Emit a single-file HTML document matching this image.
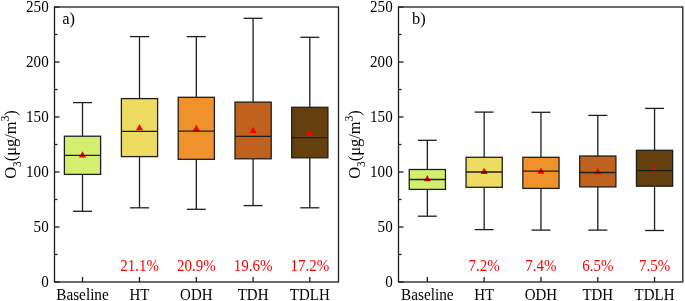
<!DOCTYPE html><html><head><meta charset="utf-8"><style>html,body{margin:0;padding:0;background:#fff;}svg{display:block;} svg{will-change:transform;}text{font-family:"Liberation Serif",serif;}</style></head><body>
<svg width="685" height="301" viewBox="0 0 685 301">
<rect width="685" height="301" fill="#fff"/>
<line x1="82.5" y1="102.6" x2="82.5" y2="136.2" stroke="#1e1e1e" stroke-width="1.3"/>
<line x1="82.5" y1="174.4" x2="82.5" y2="211.3" stroke="#1e1e1e" stroke-width="1.3"/>
<line x1="73.0" y1="102.6" x2="92.0" y2="102.6" stroke="#1e1e1e" stroke-width="1.3"/>
<line x1="73.0" y1="211.3" x2="92.0" y2="211.3" stroke="#1e1e1e" stroke-width="1.3"/>
<rect x="64.4" y="136.2" width="36.2" height="38.20000000000002" fill="#d4ef70" stroke="#1e1e1e" stroke-width="1.3"/>
<polygon points="78.9,157.4 86.1,157.4 82.5,151.20000000000002" fill="#ff0000"/>
<line x1="64.4" y1="155.4" x2="100.6" y2="155.4" stroke="#1e1e1e" stroke-width="1.3"/>
<line x1="82.5" y1="282.0" x2="82.5" y2="277.0" stroke="#1e1e1e" stroke-width="1.3"/>
<text transform="translate(82.5,299.5) scale(0.985,1.05)" font-size="15.5" text-anchor="middle" fill="#000">Baseline</text>
<line x1="139.5" y1="36.6" x2="139.5" y2="98.6" stroke="#1e1e1e" stroke-width="1.3"/>
<line x1="139.5" y1="156.6" x2="139.5" y2="207.8" stroke="#1e1e1e" stroke-width="1.3"/>
<line x1="130.0" y1="36.6" x2="149.0" y2="36.6" stroke="#1e1e1e" stroke-width="1.3"/>
<line x1="130.0" y1="207.8" x2="149.0" y2="207.8" stroke="#1e1e1e" stroke-width="1.3"/>
<rect x="121.4" y="98.6" width="36.2" height="58.0" fill="#eedc62" stroke="#1e1e1e" stroke-width="1.3"/>
<polygon points="135.9,130.3 143.1,130.3 139.5,124.10000000000001" fill="#ff0000"/>
<line x1="121.4" y1="131.3" x2="157.6" y2="131.3" stroke="#1e1e1e" stroke-width="1.3"/>
<line x1="139.5" y1="282.0" x2="139.5" y2="277.0" stroke="#1e1e1e" stroke-width="1.3"/>
<text transform="translate(139.5,299.5) scale(0.965,1.05)" font-size="15.5" text-anchor="middle" fill="#000">HT</text>
<text transform="translate(139.5,270.7) scale(1.0,1.09)" font-size="15" text-anchor="middle" fill="#ff0000">21.1%</text>
<line x1="196.3" y1="36.6" x2="196.3" y2="97.3" stroke="#1e1e1e" stroke-width="1.3"/>
<line x1="196.3" y1="159.3" x2="196.3" y2="209.3" stroke="#1e1e1e" stroke-width="1.3"/>
<line x1="186.8" y1="36.6" x2="205.8" y2="36.6" stroke="#1e1e1e" stroke-width="1.3"/>
<line x1="186.8" y1="209.3" x2="205.8" y2="209.3" stroke="#1e1e1e" stroke-width="1.3"/>
<rect x="178.20000000000002" y="97.3" width="36.2" height="62.000000000000014" fill="#f0922c" stroke="#1e1e1e" stroke-width="1.3"/>
<polygon points="192.70000000000002,130.9 199.9,130.9 196.3,124.7" fill="#ff0000"/>
<line x1="178.20000000000002" y1="131.2" x2="214.4" y2="131.2" stroke="#1e1e1e" stroke-width="1.3"/>
<line x1="196.3" y1="282.0" x2="196.3" y2="277.0" stroke="#1e1e1e" stroke-width="1.3"/>
<text transform="translate(196.3,299.5) scale(0.965,1.05)" font-size="15.5" text-anchor="middle" fill="#000">ODH</text>
<text transform="translate(196.3,270.7) scale(1.0,1.09)" font-size="15" text-anchor="middle" fill="#ff0000">20.9%</text>
<line x1="253.1" y1="18.3" x2="253.1" y2="102.1" stroke="#1e1e1e" stroke-width="1.3"/>
<line x1="253.1" y1="158.8" x2="253.1" y2="205.6" stroke="#1e1e1e" stroke-width="1.3"/>
<line x1="243.6" y1="18.3" x2="262.6" y2="18.3" stroke="#1e1e1e" stroke-width="1.3"/>
<line x1="243.6" y1="205.6" x2="262.6" y2="205.6" stroke="#1e1e1e" stroke-width="1.3"/>
<rect x="235.0" y="102.1" width="36.2" height="56.70000000000002" fill="#c0621e" stroke="#1e1e1e" stroke-width="1.3"/>
<polygon points="249.5,133.0 256.7,133.0 253.1,126.80000000000001" fill="#ff0000"/>
<line x1="235.0" y1="136.4" x2="271.2" y2="136.4" stroke="#1e1e1e" stroke-width="1.3"/>
<line x1="253.1" y1="282.0" x2="253.1" y2="277.0" stroke="#1e1e1e" stroke-width="1.3"/>
<text transform="translate(253.1,299.5) scale(0.965,1.05)" font-size="15.5" text-anchor="middle" fill="#000">TDH</text>
<text transform="translate(253.1,270.7) scale(1.0,1.09)" font-size="15" text-anchor="middle" fill="#ff0000">19.6%</text>
<line x1="309.8" y1="37.3" x2="309.8" y2="107.3" stroke="#1e1e1e" stroke-width="1.3"/>
<line x1="309.8" y1="157.8" x2="309.8" y2="207.8" stroke="#1e1e1e" stroke-width="1.3"/>
<line x1="300.3" y1="37.3" x2="319.3" y2="37.3" stroke="#1e1e1e" stroke-width="1.3"/>
<line x1="300.3" y1="207.8" x2="319.3" y2="207.8" stroke="#1e1e1e" stroke-width="1.3"/>
<rect x="291.7" y="107.3" width="36.2" height="50.500000000000014" fill="#65400f" stroke="#1e1e1e" stroke-width="1.3"/>
<polygon points="306.2,135.75 313.40000000000003,135.75 309.8,129.55" fill="#ff0000"/>
<line x1="291.7" y1="137.6" x2="327.90000000000003" y2="137.6" stroke="#1e1e1e" stroke-width="1.3"/>
<line x1="309.8" y1="282.0" x2="309.8" y2="277.0" stroke="#1e1e1e" stroke-width="1.3"/>
<text transform="translate(309.8,299.5) scale(0.965,1.05)" font-size="15.5" text-anchor="middle" fill="#000">TDLH</text>
<text transform="translate(309.8,270.7) scale(1.0,1.09)" font-size="15" text-anchor="middle" fill="#ff0000">17.2%</text>
<line x1="54.5" y1="282.0" x2="59.5" y2="282.0" stroke="#1e1e1e" stroke-width="1.3"/>
<text transform="translate(48.7,287.3) scale(0.975,1.08)" font-size="15.5" text-anchor="end" fill="#000">0</text>
<line x1="54.5" y1="254.5" x2="57.5" y2="254.5" stroke="#1e1e1e" stroke-width="1.3"/>
<line x1="54.5" y1="227.0" x2="59.5" y2="227.0" stroke="#1e1e1e" stroke-width="1.3"/>
<text transform="translate(48.7,232.3) scale(0.975,1.08)" font-size="15.5" text-anchor="end" fill="#000">50</text>
<line x1="54.5" y1="199.5" x2="57.5" y2="199.5" stroke="#1e1e1e" stroke-width="1.3"/>
<line x1="54.5" y1="172.0" x2="59.5" y2="172.0" stroke="#1e1e1e" stroke-width="1.3"/>
<text transform="translate(48.7,177.3) scale(0.975,1.08)" font-size="15.5" text-anchor="end" fill="#000">100</text>
<line x1="54.5" y1="144.5" x2="57.5" y2="144.5" stroke="#1e1e1e" stroke-width="1.3"/>
<line x1="54.5" y1="117.0" x2="59.5" y2="117.0" stroke="#1e1e1e" stroke-width="1.3"/>
<text transform="translate(48.7,122.3) scale(0.975,1.08)" font-size="15.5" text-anchor="end" fill="#000">150</text>
<line x1="54.5" y1="89.5" x2="57.5" y2="89.5" stroke="#1e1e1e" stroke-width="1.3"/>
<line x1="54.5" y1="62.0" x2="59.5" y2="62.0" stroke="#1e1e1e" stroke-width="1.3"/>
<text transform="translate(48.7,67.3) scale(0.975,1.08)" font-size="15.5" text-anchor="end" fill="#000">200</text>
<line x1="54.5" y1="34.5" x2="57.5" y2="34.5" stroke="#1e1e1e" stroke-width="1.3"/>
<line x1="54.5" y1="7.0" x2="59.5" y2="7.0" stroke="#1e1e1e" stroke-width="1.3"/>
<text transform="translate(48.7,12.3) scale(0.975,1.08)" font-size="15.5" text-anchor="end" fill="#000">250</text>
<rect x="54.5" y="7.0" width="284.0" height="275.0" fill="none" stroke="#1e1e1e" stroke-width="1.3"/>
<text transform="translate(62.2,23.7) scale(0.95,1)" font-size="17.3" fill="#000">a)</text>
<text transform="translate(16.299999999999997,144.5) rotate(-90) scale(1,1.06)" x="0" y="0" font-size="16.5" text-anchor="middle" fill="#000">O<tspan font-size="11.3" dy="4.15">3</tspan><tspan dy="-4.15">(μg/m</tspan><tspan font-size="11.3" dy="-6.6">3</tspan><tspan dy="6.6">)</tspan></text>
<line x1="427.35" y1="140.3" x2="427.35" y2="169.5" stroke="#1e1e1e" stroke-width="1.3"/>
<line x1="427.35" y1="189.4" x2="427.35" y2="216.2" stroke="#1e1e1e" stroke-width="1.3"/>
<line x1="417.85" y1="140.3" x2="436.85" y2="140.3" stroke="#1e1e1e" stroke-width="1.3"/>
<line x1="417.85" y1="216.2" x2="436.85" y2="216.2" stroke="#1e1e1e" stroke-width="1.3"/>
<rect x="409.25" y="169.5" width="36.2" height="19.900000000000006" fill="#d4ef70" stroke="#1e1e1e" stroke-width="1.3"/>
<polygon points="423.75,181.15 430.95000000000005,181.15 427.35,174.95000000000002" fill="#ff0000"/>
<line x1="409.25" y1="179.5" x2="445.45000000000005" y2="179.5" stroke="#1e1e1e" stroke-width="1.3"/>
<line x1="427.35" y1="282.0" x2="427.35" y2="277.0" stroke="#1e1e1e" stroke-width="1.3"/>
<text transform="translate(427.35,299.5) scale(0.985,1.05)" font-size="15.5" text-anchor="middle" fill="#000">Baseline</text>
<line x1="484.15" y1="112.1" x2="484.15" y2="157.3" stroke="#1e1e1e" stroke-width="1.3"/>
<line x1="484.15" y1="187.3" x2="484.15" y2="229.6" stroke="#1e1e1e" stroke-width="1.3"/>
<line x1="474.65" y1="112.1" x2="493.65" y2="112.1" stroke="#1e1e1e" stroke-width="1.3"/>
<line x1="474.65" y1="229.6" x2="493.65" y2="229.6" stroke="#1e1e1e" stroke-width="1.3"/>
<rect x="466.04999999999995" y="157.3" width="36.2" height="30.0" fill="#eedc62" stroke="#1e1e1e" stroke-width="1.3"/>
<polygon points="480.54999999999995,174.0 487.75,174.0 484.15,167.8" fill="#ff0000"/>
<line x1="466.04999999999995" y1="172.0" x2="502.25" y2="172.0" stroke="#1e1e1e" stroke-width="1.3"/>
<line x1="484.15" y1="282.0" x2="484.15" y2="277.0" stroke="#1e1e1e" stroke-width="1.3"/>
<text transform="translate(484.15,299.5) scale(0.965,1.05)" font-size="15.5" text-anchor="middle" fill="#000">HT</text>
<text transform="translate(484.15,270.7) scale(1.0,1.09)" font-size="15" text-anchor="middle" fill="#ff0000">7.2%</text>
<line x1="540.95" y1="112.3" x2="540.95" y2="157.3" stroke="#1e1e1e" stroke-width="1.3"/>
<line x1="540.95" y1="188.4" x2="540.95" y2="230.1" stroke="#1e1e1e" stroke-width="1.3"/>
<line x1="531.45" y1="112.3" x2="550.45" y2="112.3" stroke="#1e1e1e" stroke-width="1.3"/>
<line x1="531.45" y1="230.1" x2="550.45" y2="230.1" stroke="#1e1e1e" stroke-width="1.3"/>
<rect x="522.85" y="157.3" width="36.2" height="31.099999999999994" fill="#f0922c" stroke="#1e1e1e" stroke-width="1.3"/>
<polygon points="537.35,173.75 544.5500000000001,173.75 540.95,167.55" fill="#ff0000"/>
<line x1="522.85" y1="171.2" x2="559.0500000000001" y2="171.2" stroke="#1e1e1e" stroke-width="1.3"/>
<line x1="540.95" y1="282.0" x2="540.95" y2="277.0" stroke="#1e1e1e" stroke-width="1.3"/>
<text transform="translate(540.95,299.5) scale(0.965,1.05)" font-size="15.5" text-anchor="middle" fill="#000">ODH</text>
<text transform="translate(540.95,270.7) scale(1.0,1.09)" font-size="15" text-anchor="middle" fill="#ff0000">7.4%</text>
<line x1="597.8" y1="115.4" x2="597.8" y2="156.0" stroke="#1e1e1e" stroke-width="1.3"/>
<line x1="597.8" y1="186.9" x2="597.8" y2="230.1" stroke="#1e1e1e" stroke-width="1.3"/>
<line x1="588.3" y1="115.4" x2="607.3" y2="115.4" stroke="#1e1e1e" stroke-width="1.3"/>
<line x1="588.3" y1="230.1" x2="607.3" y2="230.1" stroke="#1e1e1e" stroke-width="1.3"/>
<rect x="579.6999999999999" y="156.0" width="36.2" height="30.900000000000006" fill="#c0621e" stroke="#1e1e1e" stroke-width="1.3"/>
<polygon points="594.1999999999999,174.15 601.4,174.15 597.8,167.95000000000002" fill="#ff0000"/>
<line x1="579.6999999999999" y1="172.5" x2="615.9" y2="172.5" stroke="#1e1e1e" stroke-width="1.3"/>
<line x1="597.8" y1="282.0" x2="597.8" y2="277.0" stroke="#1e1e1e" stroke-width="1.3"/>
<text transform="translate(597.8,299.5) scale(0.965,1.05)" font-size="15.5" text-anchor="middle" fill="#000">TDH</text>
<text transform="translate(597.8,270.7) scale(1.0,1.09)" font-size="15" text-anchor="middle" fill="#ff0000">6.5%</text>
<line x1="654.55" y1="108.4" x2="654.55" y2="150.3" stroke="#1e1e1e" stroke-width="1.3"/>
<line x1="654.55" y1="186.2" x2="654.55" y2="230.5" stroke="#1e1e1e" stroke-width="1.3"/>
<line x1="645.05" y1="108.4" x2="664.05" y2="108.4" stroke="#1e1e1e" stroke-width="1.3"/>
<line x1="645.05" y1="230.5" x2="664.05" y2="230.5" stroke="#1e1e1e" stroke-width="1.3"/>
<rect x="636.4499999999999" y="150.3" width="36.2" height="35.89999999999998" fill="#65400f" stroke="#1e1e1e" stroke-width="1.3"/>
<polygon points="650.9499999999999,172.2 658.15,172.2 654.55,166.0" fill="#ff0000"/>
<line x1="636.4499999999999" y1="170.6" x2="672.65" y2="170.6" stroke="#1e1e1e" stroke-width="1.3"/>
<line x1="654.55" y1="282.0" x2="654.55" y2="277.0" stroke="#1e1e1e" stroke-width="1.3"/>
<text transform="translate(654.55,299.5) scale(0.965,1.05)" font-size="15.5" text-anchor="middle" fill="#000">TDLH</text>
<text transform="translate(654.55,270.7) scale(1.0,1.09)" font-size="15" text-anchor="middle" fill="#ff0000">7.5%</text>
<line x1="398.5" y1="282.0" x2="403.5" y2="282.0" stroke="#1e1e1e" stroke-width="1.3"/>
<text transform="translate(392.7,287.3) scale(0.975,1.08)" font-size="15.5" text-anchor="end" fill="#000">0</text>
<line x1="398.5" y1="254.5" x2="401.5" y2="254.5" stroke="#1e1e1e" stroke-width="1.3"/>
<line x1="398.5" y1="227.0" x2="403.5" y2="227.0" stroke="#1e1e1e" stroke-width="1.3"/>
<text transform="translate(392.7,232.3) scale(0.975,1.08)" font-size="15.5" text-anchor="end" fill="#000">50</text>
<line x1="398.5" y1="199.5" x2="401.5" y2="199.5" stroke="#1e1e1e" stroke-width="1.3"/>
<line x1="398.5" y1="172.0" x2="403.5" y2="172.0" stroke="#1e1e1e" stroke-width="1.3"/>
<text transform="translate(392.7,177.3) scale(0.975,1.08)" font-size="15.5" text-anchor="end" fill="#000">100</text>
<line x1="398.5" y1="144.5" x2="401.5" y2="144.5" stroke="#1e1e1e" stroke-width="1.3"/>
<line x1="398.5" y1="117.0" x2="403.5" y2="117.0" stroke="#1e1e1e" stroke-width="1.3"/>
<text transform="translate(392.7,122.3) scale(0.975,1.08)" font-size="15.5" text-anchor="end" fill="#000">150</text>
<line x1="398.5" y1="89.5" x2="401.5" y2="89.5" stroke="#1e1e1e" stroke-width="1.3"/>
<line x1="398.5" y1="62.0" x2="403.5" y2="62.0" stroke="#1e1e1e" stroke-width="1.3"/>
<text transform="translate(392.7,67.3) scale(0.975,1.08)" font-size="15.5" text-anchor="end" fill="#000">200</text>
<line x1="398.5" y1="34.5" x2="401.5" y2="34.5" stroke="#1e1e1e" stroke-width="1.3"/>
<line x1="398.5" y1="7.0" x2="403.5" y2="7.0" stroke="#1e1e1e" stroke-width="1.3"/>
<text transform="translate(392.7,12.3) scale(0.975,1.08)" font-size="15.5" text-anchor="end" fill="#000">250</text>
<rect x="398.5" y="7.0" width="284.29999999999995" height="275.0" fill="none" stroke="#1e1e1e" stroke-width="1.3"/>
<text transform="translate(412.0,23.7) scale(0.95,1)" font-size="17.3" fill="#000">b)</text>
<text transform="translate(360.3,144.5) rotate(-90) scale(1,1.06)" x="0" y="0" font-size="16.5" text-anchor="middle" fill="#000">O<tspan font-size="11.3" dy="4.15">3</tspan><tspan dy="-4.15">(μg/m</tspan><tspan font-size="11.3" dy="-6.6">3</tspan><tspan dy="6.6">)</tspan></text>
</svg></body></html>
